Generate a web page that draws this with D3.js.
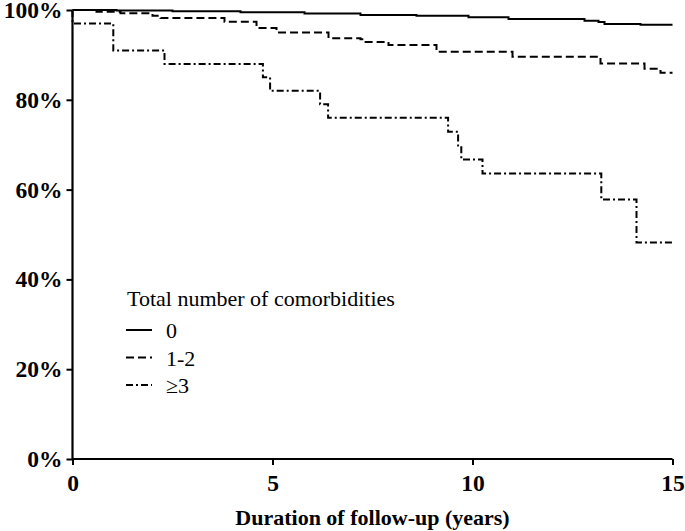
<!DOCTYPE html>
<html><head><meta charset="utf-8">
<script src="https://cdn.jsdelivr.net/npm/d3@7"></script>
<style>body{margin:0;background:#fff}svg{display:block}svg text{font-family:"Liberation Serif","Times New Roman",serif}</style>
</head><body>
<svg id="c" width="685" height="531"></svg>
<script>
// Kaplan-Meier step data: times (years) and survival (%)
const group0Times = [0, 1.1, 2.5, 4.2, 5.8, 7.2, 8.6, 9.9, 10.9, 12.8, 13.15, 13.3, 14.2];
const group0Surv  = [100, 99.9, 99.7, 99.5, 99.2, 98.9, 98.7, 98.4, 98.0, 97.6, 97.3, 96.9, 96.7];
const group12Times = [0, 0.6, 1.2, 2.0, 2.2, 3.8, 4.6, 5.1, 6.4, 7.2, 7.3, 7.9, 9.1, 11.0, 13.2, 14.3, 14.7];
const group12Surv  = [100, 99.6, 99.3, 98.7, 98.2, 97.4, 96.0, 95.0, 93.7, 93.5, 92.9, 92.2, 90.7, 89.6, 88.1, 86.9, 86.0];
const group3Times = [0, 0, 1.02, 2.3, 4.76, 4.94, 6.19, 6.39, 9.39, 9.64, 9.72, 10.25, 13.22, 14.1];
const group3Surv  = [100, 97.0, 91.0, 88.0, 85.0, 82.0, 79.0, 76.0, 72.9, 69.8, 66.7, 63.6, 57.8, 48.2];
const endTime = 15;
const seriesNames = ["0", "1-2", "\u22653"];
const xTicks = [0, 5, 10, 15];
const yTicks = [0, 20, 40, 60, 80, 100];
const legendTitle = "Total number of comorbidities";
const xTitle = "Duration of follow-up (years)";

const svg = d3.select("#c");
const L = 72.5, R = 672.5, T = 10, B = 459;
const x = d3.scaleLinear().domain([0, 15]).range([L, R]);
const y = d3.scaleLinear().domain([0, 100]).range([B, T]);

const dashes = [null, "8,4", "7,3,2,3"];
const series = [
  {t: group0Times, s: group0Surv},
  {t: group12Times, s: group12Surv},
  {t: group3Times, s: group3Surv}
];
const line = d3.line().x(d => x(d[0])).y(d => y(d[1])).curve(d3.curveStepAfter);
series.forEach((ser, i) => {
  const pts = ser.t.map((t, j) => [t, ser.s[j]]);
  pts.push([endTime, ser.s[ser.s.length - 1]]);
  svg.append("path").datum(pts).attr("d", line)
    .attr("fill", "none").attr("stroke", "#000").attr("stroke-width", 2)
    .attr("stroke-dasharray", dashes[i]);
});

const fontTick = '"Liberation Serif","Times New Roman",serif';
const yAxis = svg.append("g").attr("transform", `translate(${L},0)`)
  .call(d3.axisLeft(y).tickValues(yTicks).tickFormat(d => d + "%").tickSize(6).tickPadding(4));
const xAxis = svg.append("g").attr("transform", `translate(0,${B})`)
  .call(d3.axisBottom(x).tickValues(xTicks).tickSize(6).tickPadding(9));
[yAxis, xAxis].forEach(a => {
  a.attr("font-family", null);
  a.select(".domain").attr("stroke", "#000").attr("stroke-width", 2.2);
  a.selectAll(".tick line").attr("stroke", "#000").attr("stroke-width", 2);
  a.selectAll("text").style("font-family", fontTick).style("font-weight", "bold")
    .style("font-size", "23.5px").attr("fill", "#000");
});
yAxis.select(".domain").attr("d", `M0,${T}V${B}`);
xAxis.select(".domain").attr("d", `M${L},0H${R}`);

svg.append("text").attr("x", (L + R) / 2).attr("y", 525).attr("text-anchor", "middle")
  .style("font-family", fontTick).style("font-weight", "bold").style("font-size", "22px")
  .text(xTitle);

const lg = svg.append("g");
lg.append("text").attr("x", 127).attr("y", 306).style("font-family", fontTick)
  .style("font-size", "22px").text(legendTitle);
seriesNames.forEach((n, i) => {
  const yy = 330 + i * 27.5;
  lg.append("line").attr("x1", 126).attr("x2", 152).attr("y1", yy).attr("y2", yy)
    .attr("stroke", "#000").attr("stroke-width", 2).attr("stroke-dasharray", dashes[i]);
  lg.append("text").attr("x", 166).attr("y", yy + 8).style("font-family", fontTick)
    .style("font-size", "22px").text(n);
});
</script>
</body></html>
